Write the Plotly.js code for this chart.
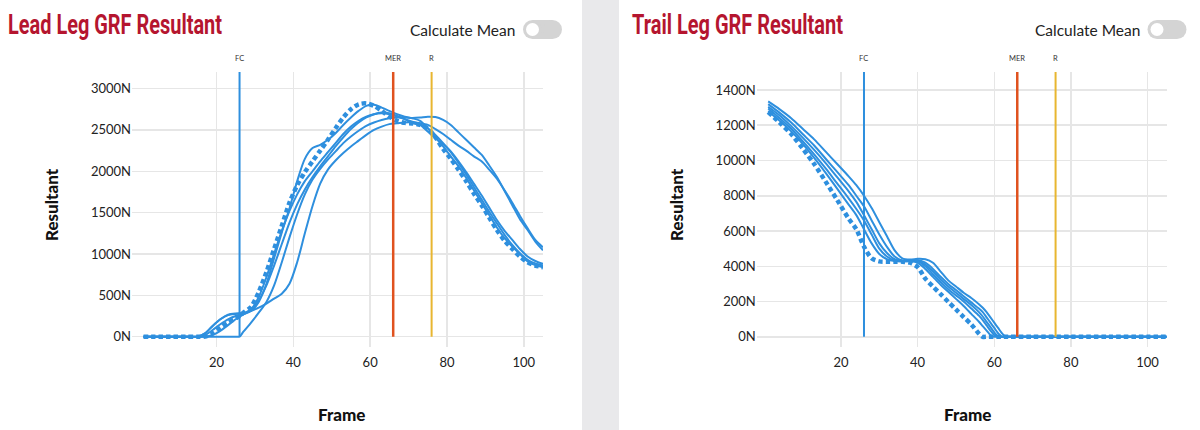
<!DOCTYPE html>
<html>
<head>
<meta charset="utf-8">
<script src="https://cdn.plot.ly/plotly-3.0.1.min.js"></script>
<style>
  html, body { margin: 0; padding: 0; background: #fff; }
  #chart { width: 1200px; height: 430px; }
</style>
</head>
<body>
<div id="chart"></div>
<script>
// ---------- DATA ----------
const EVENT_NAMES = ['FC', 'MER', 'R'];
const EVENT_FRAMES = [26, 66, 76];
const EVENT_COLORS = ['#2e8fde', '#e0521f', '#e8b630'];

const X_TICKS = [20, 40, 60, 80, 100];
const LEAD_Y_TICKS = [0, 500, 1000, 1500, 2000, 2500, 3000];
const TRAIL_Y_TICKS = [0, 200, 400, 600, 800, 1000, 1200, 1400];

const LEAD_FRAMES = [1,4,8,12,15,17,19,21,23,25,26,27,29,31,33,35,37,39,41,43,45,47,49,51,53,55,57,59,61,63,65,67,69,71,73,75,77,79,81,83,85,87,89,91,93,95,97,99,101,103,105];

const LEAD_T1 = [0,0,0,0,0,40,130,210,265,280,282,285,310,420,640,950,1260,1550,1880,2150,2280,2320,2380,2460,2560,2650,2730,2790,2805,2770,2730,2690,2660,2640,2610,2520,2410,2300,2180,2060,1920,1770,1620,1470,1320,1190,1090,1000,910,865,840];
const LEAD_T2 = [0,0,0,0,0,20,80,150,210,250,262,270,330,480,720,1000,1280,1520,1720,1880,2000,2120,2230,2340,2450,2540,2610,2660,2690,2700,2690,2660,2630,2600,2570,2520,2440,2340,2230,2100,1960,1810,1660,1510,1370,1230,1110,1010,930,885,860];
const LEAD_T3 = [0,0,0,0,0,0,0,0,0,0,0,60,170,290,420,620,900,1200,1480,1720,1900,2030,2140,2240,2340,2420,2490,2550,2590,2620,2640,2650,2650,2645,2650,2660,2655,2620,2560,2470,2380,2290,2200,2070,1930,1760,1590,1420,1290,1150,1045];
const LEAD_T4 = [0,0,0,0,0,0,20,70,140,210,240,270,310,350,400,460,520,640,900,1250,1580,1850,2020,2130,2220,2300,2370,2440,2500,2540,2570,2580,2590,2590,2580,2560,2510,2450,2380,2310,2250,2180,2120,2020,1910,1770,1620,1460,1310,1170,1080];
const LEAD_T5 = [0,0,0,0,0,40,130,210,260,275,280,285,330,440,620,860,1120,1380,1600,1780,1930,2060,2180,2300,2410,2510,2590,2650,2690,2710,2700,2670,2630,2580,2560,2480,2400,2330,2240,2120,1990,1850,1710,1560,1410,1280,1170,1060,970,915,880];
const LEAD_DOTTED = [0,0,0,0,0,0,40,110,170,220,250,290,360,540,780,1060,1340,1620,1830,1990,2120,2250,2380,2520,2650,2750,2810,2820,2790,2730,2660,2610,2585,2578,2560,2515,2410,2270,2150,2020,1880,1730,1590,1440,1290,1160,1060,970,900,860,840];

const TRAIL_FRAMES = [1,4,7,10,13,16,19,22,24,26,28,30,32,34,36,38,40,42,44,46,48,50,52,54,56,57,58,59,60,61,62,63,64,70,80,90,100,105];

const TRAIL_S1 = [1335,1290,1240,1180,1120,1050,980,910,860,800,730,650,570,490,445,438,442,440,420,370,320,285,250,220,185,165,140,110,80,50,20,0,0,0,0,0,0,0];
const TRAIL_S2 = [1320,1270,1215,1150,1085,1010,935,860,800,740,660,580,510,455,432,430,435,420,385,340,300,265,230,195,160,140,110,80,50,20,0,0,0,0,0,0,0,0];
const TRAIL_S3 = [1305,1255,1195,1130,1060,985,905,825,765,690,610,530,475,440,430,430,430,410,370,325,285,250,215,180,140,115,85,55,25,0,0,0,0,0,0,0,0,0];
const TRAIL_S4 = [1295,1240,1180,1110,1035,955,870,785,725,660,580,500,455,432,428,430,428,400,355,310,270,235,200,160,120,95,65,35,10,0,0,0,0,0,0,0,0,0];
const TRAIL_S5 = [1280,1225,1165,1095,1015,930,840,750,690,610,530,470,440,430,428,428,420,385,340,295,255,215,175,130,85,60,35,10,0,0,0,0,0,0,0,0,0,0];
const TRAIL_DOTTED = [1275,1215,1150,1068,980,880,776,670,610,511,445,428,426,426,426,420,395,330,285,242,198,155,112,70,18,0,0,0,0,0,0,0,0,0,0,0,0,0];

// ---------- STYLE ----------
const BLUE = '#2e8fde';
const W = 1200, H = 430;
const px = v => v / W;          // pixel -> paper x
const py = v => 1 - v / H;      // pixel -> paper y
const TICK_FONT = { family: 'Lato, "Open Sans", sans-serif', size: 13, color: '#222' };

function solid(x, y, xa, ya) {
  return { x, y, xaxis: xa, yaxis: ya, type: 'scatter', mode: 'lines',
    line: { color: BLUE, width: 2, shape: 'spline', smoothing: 0.8 }, hoverinfo: 'skip' };
}
function dotted(x, y, xa, ya) {
  return { x, y, xaxis: xa, yaxis: ya, type: 'scatter', mode: 'lines',
    line: { color: BLUE, width: 4.5, dash: '4.5px,3px', shape: 'spline', smoothing: 0.8 }, hoverinfo: 'skip' };
}

const data = [
  ...[LEAD_T1, LEAD_T2, LEAD_T3, LEAD_T4, LEAD_T5].map(s => solid(LEAD_FRAMES, s, 'x', 'y')),
  dotted(LEAD_FRAMES, LEAD_DOTTED, 'x', 'y'),
  ...[TRAIL_S1, TRAIL_S2, TRAIL_S3, TRAIL_S4, TRAIL_S5].map(s => solid(TRAIL_FRAMES, s, 'x2', 'y2')),
  dotted(TRAIL_FRAMES, TRAIL_DOTTED, 'x2', 'y2')
];

const LEAD_RANGE = [-125, 3200];
const TRAIL_RANGE = [-58, 1502];
const YDOM = [py(347), py(72)];

function xAxis(domain, anchor) {
  return { domain, anchor, range: [-2, 105], tickvals: X_TICKS, showgrid: true,
    gridcolor: '#e6e6e6', gridwidth: 1.5, zeroline: false, showline: false, ticks: '',
    ticklabelstandoff: 6, tickfont: TICK_FONT, fixedrange: true };
}
function yAxis(domain, anchor, range, vals) {
  return { domain, anchor, range, tickvals: vals, ticktext: vals.map(v => v + 'N'),
    showgrid: true, gridcolor: '#e6e6e6', gridwidth: 1.5, zeroline: false, showline: false,
    ticks: '', tickfont: TICK_FONT, fixedrange: true };
}

const shapes = [
  // panel divider
  { type: 'rect', xref: 'paper', yref: 'paper', x0: px(582), x1: px(619), y0: 0, y1: 1,
    fillcolor: '#e9e9eb', line: { width: 0 }, layer: 'below' }
];
// event lines
[['x', 'y', LEAD_RANGE], ['x2', 'y2', TRAIL_RANGE]].forEach(([xa, ya, rg]) => {
  EVENT_FRAMES.forEach((f, i) => {
    shapes.push({ type: 'line', xref: xa, yref: ya, x0: f, x1: f, y0: 0, y1: rg[1],
      line: { color: EVENT_COLORS[i], width: i === 1 ? 2.5 : 2 } });
  });
});
// toggles
function toggle(left) {
  const t = 20, b = 39, r = 9.5, w = 39;
  const fill = '#d4d4d4';
  return [
    { type: 'rect', xref: 'paper', yref: 'paper', x0: px(left + r), x1: px(left + w - r), y0: py(b), y1: py(t), fillcolor: fill, line: { width: 0 } },
    { type: 'circle', xref: 'paper', yref: 'paper', x0: px(left), x1: px(left + 2 * r), y0: py(b), y1: py(t), fillcolor: fill, line: { width: 0 } },
    { type: 'circle', xref: 'paper', yref: 'paper', x0: px(left + w - 2 * r), x1: px(left + w), y0: py(b), y1: py(t), fillcolor: fill, line: { width: 0 } },
    { type: 'circle', xref: 'paper', yref: 'paper', x0: px(left + 3), x1: px(left + 16), y0: py(36), y1: py(23), fillcolor: '#ffffff', line: { width: 0 } }
  ];
}
shapes.push(...toggle(523), ...toggle(1147.5));

const TITLE_FONT = { family: 'Roboto, "Liberation Sans", sans-serif', size: 28, weight: 700, color: '#b5152f' };
const AXT_FONT = { family: 'Lato, "Open Sans", sans-serif', size: 17, weight: 900, color: '#111' };
const annotations = [
  { text: 'Lead Leg GRF Resultant', xref: 'paper', yref: 'paper', x: px(6), y: py(24), xanchor: 'left', yanchor: 'middle', showarrow: false, font: TITLE_FONT },
  { text: 'Trail Leg GRF Resultant', xref: 'paper', yref: 'paper', x: px(630), y: py(24), xanchor: 'left', yanchor: 'middle', showarrow: false, font: TITLE_FONT },
  { text: 'Calculate Mean', xref: 'paper', yref: 'paper', x: px(517), y: py(30), xanchor: 'right', yanchor: 'middle', showarrow: false, font: { family: 'Lato, sans-serif', size: 15.5, color: '#222' } },
  { text: 'Calculate Mean', xref: 'paper', yref: 'paper', x: px(1142), y: py(30), xanchor: 'right', yanchor: 'middle', showarrow: false, font: { family: 'Lato, sans-serif', size: 15.5, color: '#222' } },
  { text: 'Resultant', xref: 'paper', yref: 'paper', x: px(52), y: py(205), xanchor: 'center', yanchor: 'middle', textangle: -90, showarrow: false, font: AXT_FONT },
  { text: 'Resultant', xref: 'paper', yref: 'paper', x: px(677), y: py(205), xanchor: 'center', yanchor: 'middle', textangle: -90, showarrow: false, font: AXT_FONT },
  { text: 'Frame', xref: 'paper', yref: 'paper', x: px(342), y: py(414), xanchor: 'center', yanchor: 'middle', showarrow: false, font: AXT_FONT },
  { text: 'Frame', xref: 'paper', yref: 'paper', x: px(967), y: py(414), xanchor: 'center', yanchor: 'middle', showarrow: false, font: AXT_FONT }
];
['x', 'x2'].forEach(xa => {
  EVENT_FRAMES.forEach((f, i) => {
    annotations.push({ text: EVENT_NAMES[i], xref: xa, yref: 'paper', x: f, y: py(58), xanchor: 'center', yanchor: 'middle', showarrow: false, font: { family: 'Lato, sans-serif', size: 7.5, color: '#333' } });
  });
});

const layout = {
  width: W, height: H, margin: { l: 0, r: 0, t: 0, b: 0 },
  paper_bgcolor: '#ffffff', plot_bgcolor: '#ffffff', showlegend: false,
  font: TICK_FONT,
  xaxis: xAxis([px(132), px(543)], 'y'),
  yaxis: yAxis(YDOM, 'x', LEAD_RANGE, LEAD_Y_TICKS),
  xaxis2: xAxis([px(756.7), px(1166.7)], 'y2'),
  yaxis2: yAxis(YDOM, 'x2', TRAIL_RANGE, TRAIL_Y_TICKS),
  shapes, annotations
};

// condensed headline look: squeeze the two panel titles horizontally to the headline width
const TITLE_WIDTHS = { 0: 214, 1: 211 };
Plotly.newPlot('chart', data, layout, { displayModeBar: false, staticPlot: true }).then(gd => {
  gd.querySelectorAll('g.annotation').forEach(g => {
    const idx = g.getAttribute('data-index');
    if (!(idx in TITLE_WIDTHS)) return;
    const t = g.querySelector('text.annotation-text');
    if (!t) return;
    const bb = t.getBBox();
    const s = TITLE_WIDTHS[idx] / bb.width;
    t.setAttribute('transform', `translate(${bb.x},0) scale(${s},1) translate(${-bb.x},0)`);
  });
});
</script>
</body>
</html>
